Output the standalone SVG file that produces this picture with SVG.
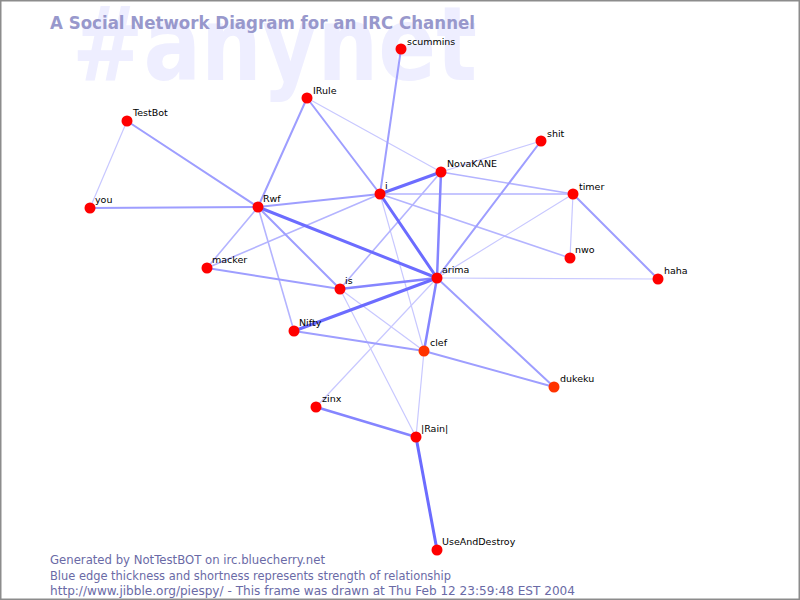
<svg xmlns="http://www.w3.org/2000/svg" width="800" height="600" viewBox="0 0 800 600">
<style>
.bg{fill:#ffffff;stroke:#8c8c8c;stroke-width:1.5}
.wm{font-family:"DejaVu Sans","Liberation Sans",sans-serif;font-weight:bold;font-size:104px;fill:#eeeeff}
.title{font-family:"DejaVu Sans","Liberation Sans",sans-serif;font-weight:bold;font-size:18px;fill:#9898cc}
.foot{font-family:"DejaVu Sans","Liberation Sans",sans-serif;font-size:12px;fill:#6a6aa6}
.lbl{font-family:"DejaVu Sans","Liberation Sans",sans-serif;font-size:9.5px;fill:#000000}
.n{fill:#ff0000}
.n2{fill:#ff3300}
line{stroke-linecap:round}
.e1{stroke:#c8c8ff;stroke-width:1.2}
.e2{stroke:#b4b4ff;stroke-width:1.6}
.e3{stroke:#9e9eff;stroke-width:2}
.e4{stroke:#8585ff;stroke-width:2.5}
.e5{stroke:#6c6cff;stroke-width:3}
</style>
<rect class="bg" x="0.75" y="0.75" width="798.5" height="598.5"/>
<text class="wm" x="72" y="80" textLength="405" lengthAdjust="spacingAndGlyphs">#anynet</text>
<text class="title" x="50" y="29" textLength="425" lengthAdjust="spacingAndGlyphs">A Social Network Diagram for an IRC Channel</text>
<g id="connectors">
<line class="e1" x1="307" y1="98" x2="441" y2="172"/>
<line class="e1" x1="127" y1="121" x2="90" y2="208"/>
<line class="e1" x1="340" y1="289" x2="416" y2="437"/>
<line class="e1" x1="380" y1="194" x2="424" y2="351"/>
<line class="e1" x1="424" y1="351" x2="416" y2="437"/>
<line class="e1" x1="340" y1="289" x2="424" y2="351"/>
<line class="e1" x1="541" y1="141" x2="441" y2="172"/>
<line class="e1" x1="573" y1="194" x2="437" y2="278"/>
<line class="e1" x1="573" y1="194" x2="570" y2="258"/>
<line class="e1" x1="437" y1="278" x2="658" y2="279"/>
<line class="e1" x1="437" y1="278" x2="316" y2="407"/>
<line class="e2" x1="207" y1="268" x2="380" y2="194"/>
<line class="e2" x1="380" y1="194" x2="573" y2="194"/>
<line class="e2" x1="441" y1="172" x2="573" y2="194"/>
<line class="e2" x1="258" y1="207" x2="294" y2="331"/>
<line class="e2" x1="340" y1="289" x2="441" y2="172"/>
<line class="e2" x1="380" y1="194" x2="570" y2="258"/>
<line class="e2" x1="258" y1="207" x2="207" y2="268"/>
<line class="e3" x1="401" y1="49" x2="380" y2="194"/>
<line class="e3" x1="307" y1="98" x2="258" y2="207"/>
<line class="e3" x1="307" y1="98" x2="380" y2="194"/>
<line class="e3" x1="127" y1="121" x2="258" y2="207"/>
<line class="e3" x1="90" y1="208" x2="258" y2="207"/>
<line class="e3" x1="258" y1="207" x2="380" y2="194"/>
<line class="e3" x1="258" y1="207" x2="340" y2="289"/>
<line class="e3" x1="207" y1="268" x2="340" y2="289"/>
<line class="e3" x1="541" y1="141" x2="437" y2="278"/>
<line class="e3" x1="573" y1="194" x2="658" y2="279"/>
<line class="e3" x1="294" y1="331" x2="424" y2="351"/>
<line class="e3" x1="424" y1="351" x2="554" y2="387"/>
<line class="e3" x1="437" y1="278" x2="554" y2="387"/>
<line class="e4" x1="441" y1="172" x2="437" y2="278"/>
<line class="e4" x1="437" y1="278" x2="340" y2="289"/>
<line class="e4" x1="437" y1="278" x2="424" y2="351"/>
<line class="e4" x1="316" y1="407" x2="416" y2="437"/>
<line class="e5" x1="258" y1="207" x2="437" y2="278"/>
<line class="e5" x1="380" y1="194" x2="437" y2="278"/>
<line class="e5" x1="380" y1="194" x2="441" y2="172"/>
<line class="e5" x1="437" y1="278" x2="294" y2="331"/>
<line class="e5" x1="416" y1="437" x2="437" y2="550"/>
</g>
<g id="node-scummins"><circle class="n" cx="401" cy="49" r="5.5"/><text class="lbl" x="407" y="45">scummins</text></g>
<g id="node-IRule"><circle class="n" cx="307" cy="98" r="5.5"/><text class="lbl" x="313" y="94">IRule</text></g>
<g id="node-TestBot"><circle class="n" cx="127" cy="121" r="5.5"/><text class="lbl" x="133" y="116">TestBot</text></g>
<g id="node-you"><circle class="n" cx="90" cy="208" r="5.5"/><text class="lbl" x="95" y="203">you</text></g>
<g id="node-Rwf"><circle class="n" cx="258" cy="207" r="5.5"/><text class="lbl" x="263" y="202">Rwf</text></g>
<g id="node-i"><circle class="n" cx="380" cy="194" r="5.5"/><text class="lbl" x="385" y="189">i</text></g>
<g id="node-NovaKANE"><circle class="n" cx="441" cy="172" r="5.5"/><text class="lbl" x="447" y="167">NovaKANE</text></g>
<g id="node-shit"><circle class="n" cx="541" cy="141" r="5.5"/><text class="lbl" x="547" y="137">shit</text></g>
<g id="node-timer"><circle class="n" cx="573" cy="194" r="5.5"/><text class="lbl" x="579" y="190">timer</text></g>
<g id="node-nwo"><circle class="n" cx="570" cy="258" r="5.5"/><text class="lbl" x="575" y="253">nwo</text></g>
<g id="node-haha"><circle class="n" cx="658" cy="279" r="5.5"/><text class="lbl" x="664" y="274">haha</text></g>
<g id="node-macker"><circle class="n" cx="207" cy="268" r="5.5"/><text class="lbl" x="212" y="263">macker</text></g>
<g id="node-is"><circle class="n" cx="340" cy="289" r="5.5"/><text class="lbl" x="345" y="284">is</text></g>
<g id="node-arima"><circle class="n" cx="437" cy="278" r="5.5"/><text class="lbl" x="442" y="273">arima</text></g>
<g id="node-Nifty"><circle class="n" cx="294" cy="331" r="5.5"/><text class="lbl" x="299" y="326">Nifty</text></g>
<g id="node-clef"><circle class="n2" cx="424" cy="351" r="5.5"/><text class="lbl" x="430" y="346">clef</text></g>
<g id="node-dukeku"><circle class="n2" cx="554" cy="387" r="5.5"/><text class="lbl" x="560" y="382">dukeku</text></g>
<g id="node-zinx"><circle class="n" cx="316" cy="407" r="5.5"/><text class="lbl" x="322" y="402">zinx</text></g>
<g id="node-Rain"><circle class="n" cx="416" cy="437" r="5.5"/><text class="lbl" x="421" y="432">|Rain|</text></g>
<g id="node-UseAndDestroy"><circle class="n" cx="437" cy="550" r="5.5"/><text class="lbl" x="442" y="545">UseAndDestroy</text></g>
<text class="foot" x="50" y="564" textLength="275" lengthAdjust="spacingAndGlyphs">Generated by NotTestBOT on irc.bluecherry.net</text>
<text class="foot" x="50" y="580" textLength="401" lengthAdjust="spacingAndGlyphs">Blue edge thickness and shortness represents strength of relationship</text>
<text class="foot" x="50" y="595" textLength="525" lengthAdjust="spacingAndGlyphs">http://www.jibble.org/piespy/ - This frame was drawn at Thu Feb 12 23:59:48 EST 2004</text>
</svg>
